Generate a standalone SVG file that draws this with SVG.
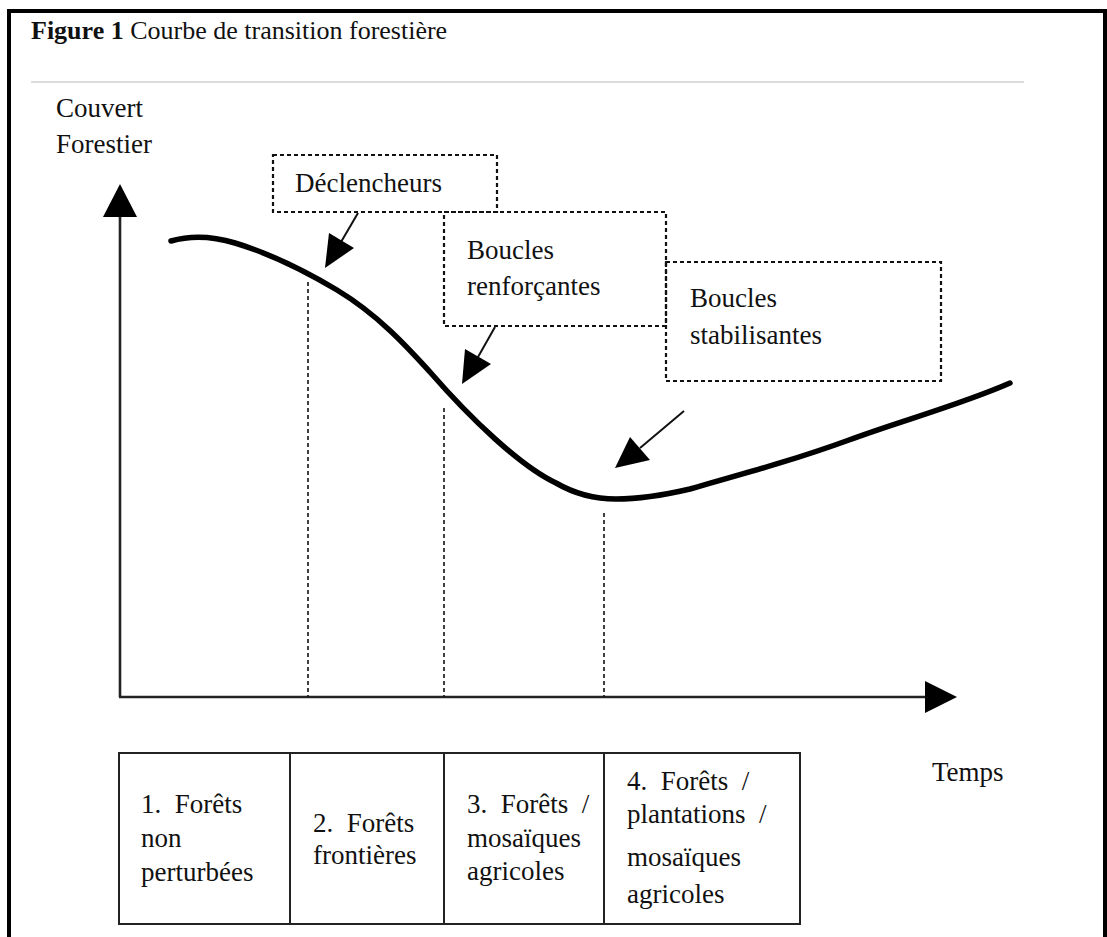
<svg xmlns="http://www.w3.org/2000/svg" width="1107" height="937" viewBox="0 0 1107 937">
<style>
.t{font-size:27px;fill:#111}
.box{fill:none;stroke:#111;stroke-width:2.2;stroke-dasharray:4 3}
.vd{fill:none;stroke:#111;stroke-width:1.6;stroke-dasharray:4 3}
.ax{fill:none;stroke:#222;stroke-width:2.6}
.ar{fill:none;stroke:#111;stroke-width:2}
.head{fill:#000}
.tab{fill:none;stroke:#222;stroke-width:2}
</style>
<rect width="1107" height="937" fill="#fff"/>
<g font-family="Liberation Serif, serif">
<g id="frame">
<path d="M9,937 V11 H1105 V937" fill="none" stroke="#000" stroke-width="4"/>
<line x1="31" y1="82" x2="1024" y2="82" stroke="#d0d0d0" stroke-width="1.5"/>
<text x="31" y="39" font-size="26" fill="#111"><tspan font-weight="bold">Figure 1</tspan> Courbe de transition forestière</text>
</g>
<g id="axes">
<line class="ax" x1="120" y1="697" x2="120" y2="214"/>
<polygon class="head" points="120,184 103,217 137,217"/>
<line class="ax" x1="119" y1="697" x2="928" y2="697"/>
<polygon class="head" points="957,697 925,681 925,713"/>
<text class="t" x="56" y="117">Couvert</text>
<text class="t" x="56" y="153">Forestier</text>
<text class="t" x="932" y="781">Temps</text>
</g>
<g id="curve">
<path d="M171,241 C185,237 205,234 235,243 C265,252 300,268 337,290 C380,316 410,350 430,372 C470,418 520,466 556,483 C575,494 595,499 616,499 C640,499 660,496 690,489 C750,472 800,458 849,440 C900,421 960,405 1010,383" fill="none" stroke="#000" stroke-width="5.5" stroke-linecap="round"/>
</g>
<g id="guides">
<line class="vd" x1="308" y1="282" x2="308" y2="697"/>
<line class="vd" x1="444" y1="408" x2="444" y2="697"/>
<line class="vd" x1="604" y1="513" x2="604" y2="697"/>
</g>
<g id="declencheurs">
<rect class="box" x="273" y="155" width="224" height="57"/>
<text class="t" x="295" y="192">Déclencheurs</text>
</g>
<g id="boucles-renforcantes">
<rect class="box" x="444" y="212" width="222" height="114"/>
<text class="t" x="467" y="259">Boucles</text>
<text class="t" x="467" y="295">renforçantes</text>
</g>
<g id="boucles-stabilisantes">
<rect class="box" x="666" y="262" width="275" height="119"/>
<text class="t" x="690" y="307">Boucles</text>
<text class="t" x="690" y="344">stabilisantes</text>
</g>
<g id="connectors">
<line class="ar" x1="358" y1="213" x2="341" y2="242"/>
<polygon class="head" points="325,268 354,248 329,233"/>
<line class="ar" x1="495" y1="327" x2="478" y2="357"/>
<polygon class="head" points="462,384 491,364 465,349"/>
<line class="ar" x1="684" y1="411" x2="640" y2="448"/>
<polygon class="head" points="615,468 650,460 630,437"/>
</g>
<g id="table">
<rect class="tab" x="119" y="753" width="681" height="171"/>
<line class="tab" x1="290" y1="753" x2="290" y2="924"/>
<line class="tab" x1="444" y1="753" x2="444" y2="924"/>
<line class="tab" x1="604" y1="753" x2="604" y2="924"/>
</g>
<g id="phase1">
<text class="t" x="141" y="813" xml:space="preserve">1.  Forêts</text>
<text class="t" x="141" y="847">non</text>
<text class="t" x="141" y="881">perturbées</text>
</g>
<g id="phase2">
<text class="t" x="313" y="832" xml:space="preserve">2.  Forêts</text>
<text class="t" x="313" y="864">frontières</text>
</g>
<g id="phase3">
<text class="t" x="467" y="813" xml:space="preserve">3.  Forêts  /</text>
<text class="t" x="467" y="847">mosaïques</text>
<text class="t" x="467" y="880">agricoles</text>
</g>
<g id="phase4">
<text class="t" x="627" y="790" xml:space="preserve">4.  Forêts  /</text>
<text class="t" x="627" y="823" xml:space="preserve">plantations  /</text>
<text class="t" x="627" y="866">mosaïques</text>
<text class="t" x="627" y="903">agricoles</text>
</g>
</g>
</svg>
